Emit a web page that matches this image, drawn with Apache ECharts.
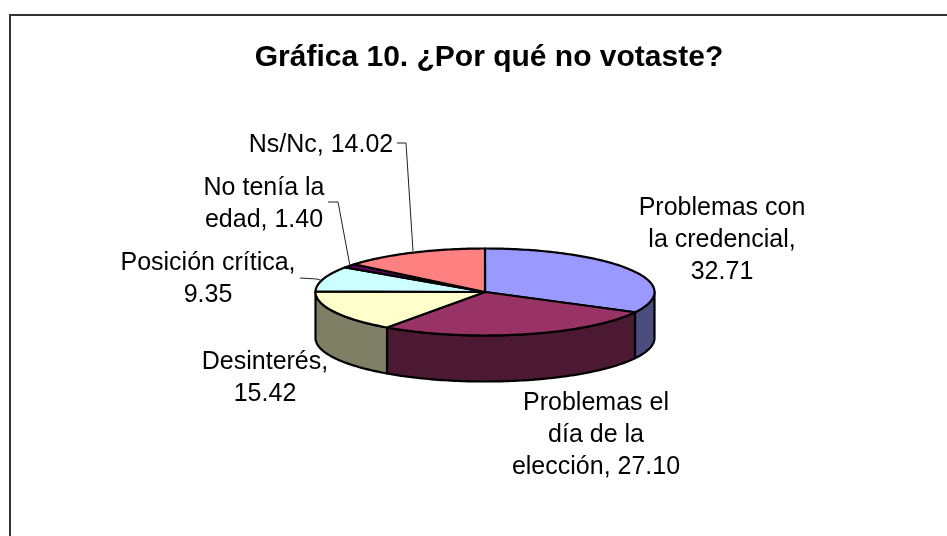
<!DOCTYPE html>
<html>
<head>
<meta charset="utf-8">
<title>Gráfica 10</title>
<style>
html, body { margin: 0; padding: 0; background: #fff; }
#chart { width: 947px; height: 536px; }
</style>
<script src="https://cdn.jsdelivr.net/npm/echarts@6/dist/echarts.min.js"></script>
</head>
<body>
<div id="chart"></div>
<script>
var titleText = 'Gráfica 10. ¿Por qué no votaste?';
var categories = ['Problemas con la credencial', 'Problemas el día de la elección', 'Desinterés', 'Posición crítica', 'No tenía la edad', 'Ns/Nc'];
var values = [32.71, 27.10, 15.42, 9.35, 1.40, 14.02];
var topColors = ['#9999FF', '#993366', '#FFFFCC', '#CCFFFF', '#660066', '#FF8080'];
var sideColors = ['#4C4C7F', '#4C1933', '#7F7F66', '#667F7F', '#330033', '#7F4040'];

// label text and where it sits, same order as categories
var labelLines = [
	['Problemas con', 'la credencial,', '32.71'],
	['Problemas el', 'día de la', 'elección, 27.10'],
	['Desinterés,', '15.42'],
	['Posición crítica,', '9.35'],
	['No tenía la', 'edad, 1.40'],
	['Ns/Nc, 14.02']
];
var labelPos = [[722, 207], [596, 402], [265, 361], [208, 262], [264, 187], [321, 144]];
// leader lines, only the small slices have one
var leaders = [null, null, null,
	[[300, 278], [317, 279], [323, 281]],
	[[328, 202], [338, 202], [350, 266]],
	[[397, 143], [406, 143], [413, 251]]
];

var cx = 485, cy = 292, rx = 169.5, ry = 43.5, depth = 46;
var fontName = '"Liberation Sans", Arial, sans-serif';

var total = 0;
values.forEach(function(v) { total += v; });

// angle measured clockwise from 12 o'clock
function pt(a, dy) {
	return [cx + rx * Math.sin(a), cy - ry * Math.cos(a) + (dy || 0)];
}
function startAngle(i) {
	var s = 0;
	for (var k = 0; k < i; k++) s += values[k];
	return s / total * Math.PI * 2;
}
function arcPts(a0, a1, dy) {
	var n = Math.max(2, Math.ceil((a1 - a0) / 0.02));
	var out = [];
	for (var k = 0; k <= n; k++) out.push(pt(a0 + (a1 - a0) * k / n, dy));
	return out;
}

var seriesData = values.map(function(v, i) {
	return { name: categories[i], value: v };
});

function renderSide(params, api) {
	var i = params.dataIndex;
	var a0 = Math.max(startAngle(i), Math.PI / 2);
	var a1 = Math.min(startAngle(i) + values[i] / total * Math.PI * 2, Math.PI * 1.5);
	if (a1 <= a0) return null;
	var pts = arcPts(a0, a1, 0).concat(arcPts(a0, a1, depth).reverse());
	return {
		type: 'polygon',
		shape: { points: pts },
		style: { fill: sideColors[i], stroke: '#000', lineWidth: 2.2, lineJoin: 'round' }
	};
}

function renderTop(params, api) {
	var i = params.dataIndex;
	var a0 = startAngle(i);
	var a1 = a0 + values[i] / total * Math.PI * 2;
	var pts = [[cx, cy]].concat(arcPts(a0, a1, 0));
	return {
		type: 'polygon',
		shape: { points: pts },
		style: { fill: topColors[i], stroke: '#000', lineWidth: 2.2, lineJoin: 'round' }
	};
}

function renderLabel(params, api) {
	var i = params.dataIndex;
	var children = [{
		type: 'text',
		style: {
			text: labelLines[i].join('\n'),
			x: labelPos[i][0],
			y: labelPos[i][1] - 15,
			align: 'center',
			verticalAlign: 'top',
			lineHeight: 32,
			font: '25px ' + fontName,
			fill: '#000'
		}
	}];
	if (leaders[i]) {
		children.push({
			type: 'polyline',
			shape: { points: leaders[i] },
			style: { fill: null, stroke: '#222', lineWidth: 1 }
		});
	}
	return { type: 'group', children: children };
}

var chart = echarts.init(document.getElementById('chart'));
chart.setOption({
	backgroundColor: '#fff',
	animation: false,
	title: {
		text: titleText,
		left: 484,
		top: 38,
		textAlign: 'center',
		textStyle: { color: '#000', fontFamily: fontName, fontWeight: 'bold', fontSize: 30 }
	},
	graphic: [{
		type: 'polyline',
		shape: { points: [[10, 536], [10, 15], [947, 15]] },
		style: { fill: null, stroke: '#333', lineWidth: 2 }
	}],
	series: [
		{ type: 'custom', coordinateSystem: 'none', renderItem: renderSide, data: seriesData, z: 2 },
		{ type: 'custom', coordinateSystem: 'none', renderItem: renderTop, data: seriesData, z: 3 },
		{ type: 'custom', coordinateSystem: 'none', renderItem: renderLabel, data: seriesData, z: 4 }
	]
});
</script>
</body>
</html>
